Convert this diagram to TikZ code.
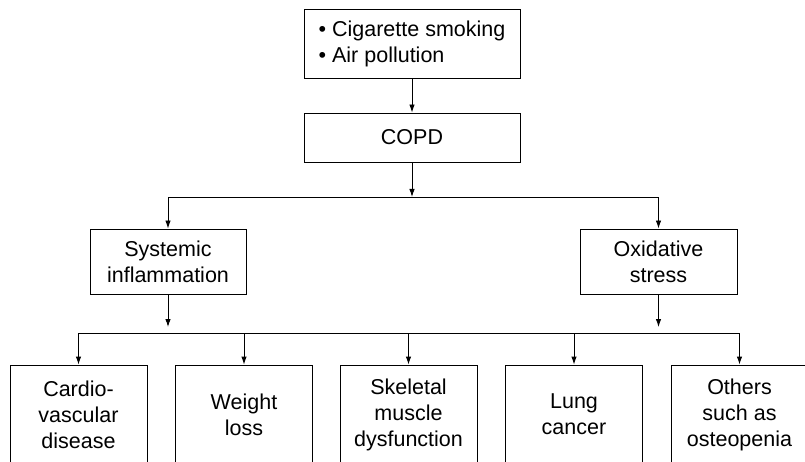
\documentclass[tikz,border=0pt]{standalone}
\usepackage{fontspec}
\setmainfont{Liberation Sans}
\usepackage{tikz}
\usetikzlibrary{arrows.meta}

\begin{document}
\begin{tikzpicture}[x=1pt, y=-1pt, line width=0.9pt,
        box/.style={draw, rectangle, inner sep=0pt, align=center, font=\fontsize{21.5}{26}\selectfont},
        leaf/.style={box, minimum width=137pt, minimum height=99pt},
        arr/.style={-{Latex[length=8pt, width=5.5pt]}}]
                    \useasboundingbox (0,0) rectangle (805,462);
                    \clip (0,0) rectangle (805,462);
                    \node[box, align=left, minimum width=216pt, minimum height=69pt] (cause) at (412,43.5) {\textbullet\ Cigarette smoking\\\textbullet\ Air pollution};
                    \node[box, minimum width=216pt, minimum height=49pt] (copd) at (412,137.5) {COPD};
                    \node[box, minimum width=156pt, minimum height=65pt] (sys) at (168,261.5) {Systemic\\inflammation};
                    \node[box, minimum width=157pt, minimum height=65pt] (ox) at (658.5,261.5) {Oxidative\\stress};
                    \node[leaf] (cardio) at (78.5,414.5) {Cardio-\\vascular\\disease};
                    \node[leaf] (weight) at (244,414.5) {Weight\\loss};
                    \node[leaf] (skeletal) at (408.5,414.5) {Skeletal\\muscle\\dysfunction};
                    \node[leaf] (lung) at (574,414.5) {Lung\\cancer};
                    \node[leaf] (others) at (739.5,414.5) {Others\\such as\\osteopenia};
                    \coordinate (split) at (412,197);
                    \coordinate (sysend) at (168,327);
                    \coordinate (oxend) at (658.5,327);
                    \coordinate (bus) at (412,333);
                    \draw[arr] (cause) -- (copd);
                    \draw[arr] (copd) -- (split);
                    \draw[arr] (split) -| (sys);
                    \draw[arr] (split) -| (ox);
                    \draw[arr] (sys) -- (sysend);
                    \draw[arr] (ox) -- (oxend);
                    \draw (bus -| cardio) -- (bus -| others);
                    \foreach \b in {cardio, weight, skeletal, lung, others}
                        \draw[arr] (bus -| \b) -- (\b);
                \end{tikzpicture}
\end{document}
